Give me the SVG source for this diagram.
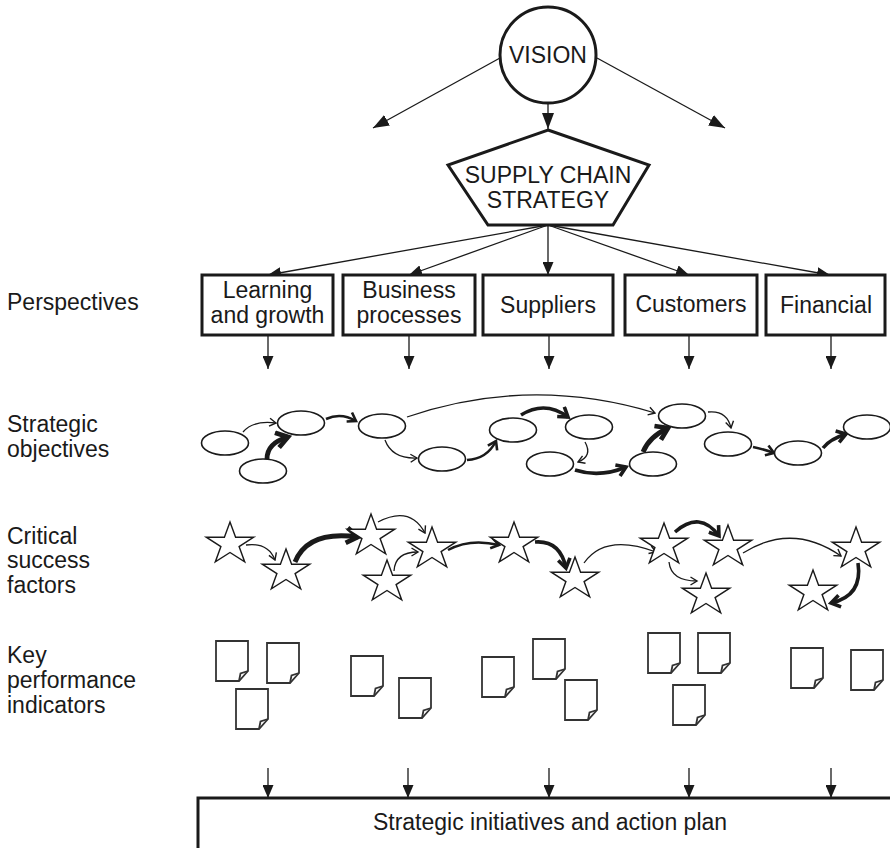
<svg xmlns="http://www.w3.org/2000/svg" xmlns:xlink="http://www.w3.org/1999/xlink" width="890" height="848" viewBox="0 0 890 848">
<style>
text{font-family:"Liberation Sans",Arial,sans-serif;fill:#1a1a1a}
.lbl{font-size:23px}
.ctr{text-anchor:middle}
.box{fill:#fff;stroke:#1a1a1a;stroke-width:3}
.ell{fill:#fff;stroke:#1a1a1a;stroke-width:1.6}
.star{fill:#fff;stroke:#1a1a1a;stroke-width:1.4;stroke-linejoin:miter}
.doc{fill:#fff;stroke:#333;stroke-width:1.8;stroke-linejoin:miter}
.ln{fill:none;stroke:#1a1a1a;stroke-width:1.3}
.t1{fill:none;stroke:#1a1a1a;stroke-width:1.3;marker-end:url(#cv1)}
.t2{fill:none;stroke:#1a1a1a;stroke-width:2.5;marker-end:url(#cv2)}
.t3{fill:none;stroke:#1a1a1a;stroke-width:3.6;marker-end:url(#cv3)}
.t4{fill:none;stroke:#1a1a1a;stroke-width:4.8;marker-end:url(#cv4)}
</style>
<defs>
<marker id="tri" viewBox="0 0 13 11" refX="13" refY="5.5" markerWidth="13" markerHeight="11" markerUnits="userSpaceOnUse" orient="auto"><path d="M0,0 L13,5.5 L0,11 Z" fill="#1a1a1a"/></marker>
<marker id="triL" viewBox="0 0 16 12" refX="16" refY="6" markerWidth="16" markerHeight="12" markerUnits="userSpaceOnUse" orient="auto"><path d="M0,0 L16,6 L0,12 Z" fill="#1a1a1a"/></marker>
<marker id="cv1" viewBox="0 0 10 10" refX="8.5" refY="5" markerWidth="10" markerHeight="10" markerUnits="userSpaceOnUse" orient="auto"><path d="M2,1 L8.5,5 L2,9" fill="none" stroke="#1a1a1a" stroke-width="1.4"/></marker>
<marker id="cv2" viewBox="0 0 10 10" refX="8" refY="5" markerWidth="13" markerHeight="13" markerUnits="userSpaceOnUse" orient="auto"><path d="M2,1 L8,5 L2,9" fill="none" stroke="#1a1a1a" stroke-width="2"/></marker>
<marker id="cv3" viewBox="0 0 10 10" refX="8" refY="5" markerWidth="15" markerHeight="15" markerUnits="userSpaceOnUse" orient="auto"><path d="M2,1 L8,5 L2,9" fill="none" stroke="#1a1a1a" stroke-width="2.4"/></marker>
<marker id="cv4" viewBox="0 0 10 10" refX="8" refY="5" markerWidth="19" markerHeight="19" markerUnits="userSpaceOnUse" orient="auto"><path d="M2,1 L8,5 L2,9" fill="none" stroke="#1a1a1a" stroke-width="2.5"/></marker>
<polygon id="star" points="0,-22 5.6,-6.8 23.8,-6.8 9.1,2.6 14.7,17.9 0,8.5 -14.7,17.9 -9.1,2.6 -23.8,-6.8 -5.6,-6.8"/>
<g id="doc"><path d="M0,0 H32 V30 L23,40 H0 Z"/><path d="M32,30 L24.5,32.5 L23,40" fill="none"/></g>
</defs>
<rect width="890" height="848" fill="#fff"/>

<g id="row-labels">
<text class="lbl" x="7" y="310">Perspectives</text>
<text class="lbl" x="7" y="432">Strategic</text>
<text class="lbl" x="7" y="457">objectives</text>
<text class="lbl" x="7" y="544">Critical</text>
<text class="lbl" x="7" y="568">success</text>
<text class="lbl" x="7" y="593">factors</text>
<text class="lbl" x="7" y="663">Key</text>
<text class="lbl" x="7" y="688">performance</text>
<text class="lbl" x="7" y="713">indicators</text>
</g>

<g id="connectors">
<line class="ln" x1="500" y1="58" x2="373" y2="128" marker-end="url(#triL)"/>
<line class="ln" x1="597" y1="58" x2="725" y2="128" marker-end="url(#triL)"/>
<line class="ln" x1="548" y1="103" x2="548" y2="129" marker-end="url(#triL)"/>
<line class="ln" x1="548" y1="225" x2="268" y2="275" marker-end="url(#tri)"/>
<line class="ln" x1="548" y1="225" x2="409" y2="275" marker-end="url(#tri)"/>
<line class="ln" x1="548" y1="225" x2="548" y2="275" marker-end="url(#tri)"/>
<line class="ln" x1="548" y1="225" x2="689" y2="275" marker-end="url(#tri)"/>
<line class="ln" x1="548" y1="225" x2="830" y2="275" marker-end="url(#tri)"/>
<line class="ln" x1="268" y1="335" x2="268" y2="369" marker-end="url(#tri)"/>
<line class="ln" x1="409" y1="335" x2="409" y2="369" marker-end="url(#tri)"/>
<line class="ln" x1="549" y1="335" x2="549" y2="369" marker-end="url(#tri)"/>
<line class="ln" x1="689" y1="335" x2="689" y2="369" marker-end="url(#tri)"/>
<line class="ln" x1="831" y1="335" x2="831" y2="369" marker-end="url(#tri)"/>
<line class="ln" x1="268" y1="768" x2="268" y2="798" marker-end="url(#tri)"/>
<line class="ln" x1="408" y1="768" x2="408" y2="798" marker-end="url(#tri)"/>
<line class="ln" x1="549" y1="768" x2="549" y2="798" marker-end="url(#tri)"/>
<line class="ln" x1="689" y1="768" x2="689" y2="798" marker-end="url(#tri)"/>
<line class="ln" x1="831" y1="768" x2="831" y2="798" marker-end="url(#tri)"/>
<!-- objectives -->
<path class="t1" d="M243,432 Q253,420 276,423"/>
<path class="t4" d="M267,459 Q267,443 288,437"/>
<path class="t2" d="M326,419 Q341,412 356,421"/>
<path class="t1" d="M407,417 Q530,375 655,413"/>
<path class="t1" d="M385,440 Q392,459 417,458"/>
<path class="t2" d="M467,460 Q487,459 496,441"/>
<path class="t3" d="M521,415 Q545,400 568,417"/>
<path class="t1" d="M585,442 Q593,456 578,462"/>
<path class="t3" d="M575,470 Q600,478 626,467"/>
<path class="t4" d="M643,452 Q649,437 668,428"/>
<path class="t1" d="M708,412 Q727,410 731,428"/>
<path class="t2" d="M753,447 Q763,449 774,453"/>
<path class="t3" d="M823,448 Q830,439 846,434"/>
<!-- critical success factors -->
<path class="t1" d="M246,545 Q268,542 275,560"/>
<path class="t4" d="M295,562 Q308,530 358,537"/>
<path class="t1" d="M378,522 Q410,505 425,533"/>
<path class="t1" d="M394,571 Q395,552 418,552"/>
<path class="t2" d="M448,550 Q470,538 499,545"/>
<path class="t3" d="M535,542 Q560,540 566,568"/>
<path class="t1" d="M584,563 Q605,533 656,552"/>
<path class="t3" d="M675,532 Q700,510 719,536"/>
<path class="t1" d="M669,562 Q671,581 697,581"/>
<path class="t1" d="M743,553 Q792,522 841,556"/>
<path class="t3" d="M858,563 Q863,596 831,603"/>
</g>

<g id="vision"><circle cx="548" cy="55" r="48" fill="#fff" stroke="#1a1a1a" stroke-width="3"/><text class="lbl ctr" x="548" y="63">VISION</text></g>
<g id="strategy"><polygon points="548,130 649,165 613,225 488,225 448,165" fill="#fff" stroke="#1a1a1a" stroke-width="3" stroke-linejoin="miter"/><text class="lbl ctr" x="548" y="183">SUPPLY CHAIN</text><text class="lbl ctr" x="548" y="208">STRATEGY</text></g>

<g id="p-learning"><rect class="box" x="202" y="275" width="131" height="60"/><text class="lbl ctr" x="267.5" y="298">Learning</text><text class="lbl ctr" x="267.5" y="323">and growth</text></g>
<g id="p-business"><rect class="box" x="343" y="275" width="132" height="60"/><text class="lbl ctr" x="409" y="298">Business</text><text class="lbl ctr" x="409" y="323">processes</text></g>
<g id="p-suppliers"><rect class="box" x="483" y="275" width="130" height="60"/><text class="lbl ctr" x="548" y="313">Suppliers</text></g>
<g id="p-customers"><rect class="box" x="625" y="275" width="132" height="60"/><text class="lbl ctr" x="691" y="312">Customers</text></g>
<g id="p-financial"><rect class="box" x="766" y="275" width="119" height="60"/><text class="lbl ctr" x="826" y="313">Financial</text></g>

<g id="objectives">
<ellipse class="ell" cx="225" cy="443" rx="23.5" ry="12"/>
<ellipse class="ell" cx="263" cy="471" rx="23.5" ry="12"/>
<ellipse class="ell" cx="301" cy="423" rx="23.5" ry="12"/>
<ellipse class="ell" cx="382" cy="426" rx="23.5" ry="12"/>
<ellipse class="ell" cx="442" cy="459" rx="23.5" ry="12"/>
<ellipse class="ell" cx="513" cy="430" rx="23.5" ry="12"/>
<ellipse class="ell" cx="550" cy="464" rx="23.5" ry="12"/>
<ellipse class="ell" cx="589" cy="427" rx="23.5" ry="12"/>
<ellipse class="ell" cx="653" cy="464" rx="23.5" ry="12"/>
<ellipse class="ell" cx="682" cy="416" rx="23.5" ry="12"/>
<ellipse class="ell" cx="728" cy="444" rx="23.5" ry="12"/>
<ellipse class="ell" cx="798" cy="453" rx="23.5" ry="12"/>
<ellipse class="ell" cx="867" cy="427" rx="23.5" ry="12"/>
</g>

<g id="csf">
<use class="star" href="#star" xlink:href="#star" x="230" y="544"/>
<use class="star" href="#star" xlink:href="#star" x="286" y="571"/>
<use class="star" href="#star" xlink:href="#star" x="371" y="536"/>
<use class="star" href="#star" xlink:href="#star" x="432" y="549"/>
<use class="star" href="#star" xlink:href="#star" x="387" y="582"/>
<use class="star" href="#star" xlink:href="#star" x="514" y="544"/>
<use class="star" href="#star" xlink:href="#star" x="575" y="579"/>
<use class="star" href="#star" xlink:href="#star" x="664" y="545"/>
<use class="star" href="#star" xlink:href="#star" x="728" y="547"/>
<use class="star" href="#star" xlink:href="#star" x="706" y="595"/>
<use class="star" href="#star" xlink:href="#star" x="856" y="549"/>
<use class="star" href="#star" xlink:href="#star" x="813" y="592"/>
</g>

<g id="kpi">
<use class="doc" href="#doc" xlink:href="#doc" x="216" y="641"/>
<use class="doc" href="#doc" xlink:href="#doc" x="267" y="643"/>
<use class="doc" href="#doc" xlink:href="#doc" x="236" y="689"/>
<use class="doc" href="#doc" xlink:href="#doc" x="351" y="656"/>
<use class="doc" href="#doc" xlink:href="#doc" x="399" y="678"/>
<use class="doc" href="#doc" xlink:href="#doc" x="482" y="657"/>
<use class="doc" href="#doc" xlink:href="#doc" x="533" y="639"/>
<use class="doc" href="#doc" xlink:href="#doc" x="565" y="680"/>
<use class="doc" href="#doc" xlink:href="#doc" x="648" y="633"/>
<use class="doc" href="#doc" xlink:href="#doc" x="698" y="633"/>
<use class="doc" href="#doc" xlink:href="#doc" x="673" y="685"/>
<use class="doc" href="#doc" xlink:href="#doc" x="791" y="648"/>
<use class="doc" href="#doc" xlink:href="#doc" x="851" y="650"/>
</g>

<g id="action-plan"><rect x="198" y="798" width="720" height="80" fill="#fff" stroke="#1a1a1a" stroke-width="3"/><text class="lbl ctr" x="550" y="830">Strategic initiatives and action plan</text></g>
</svg>
